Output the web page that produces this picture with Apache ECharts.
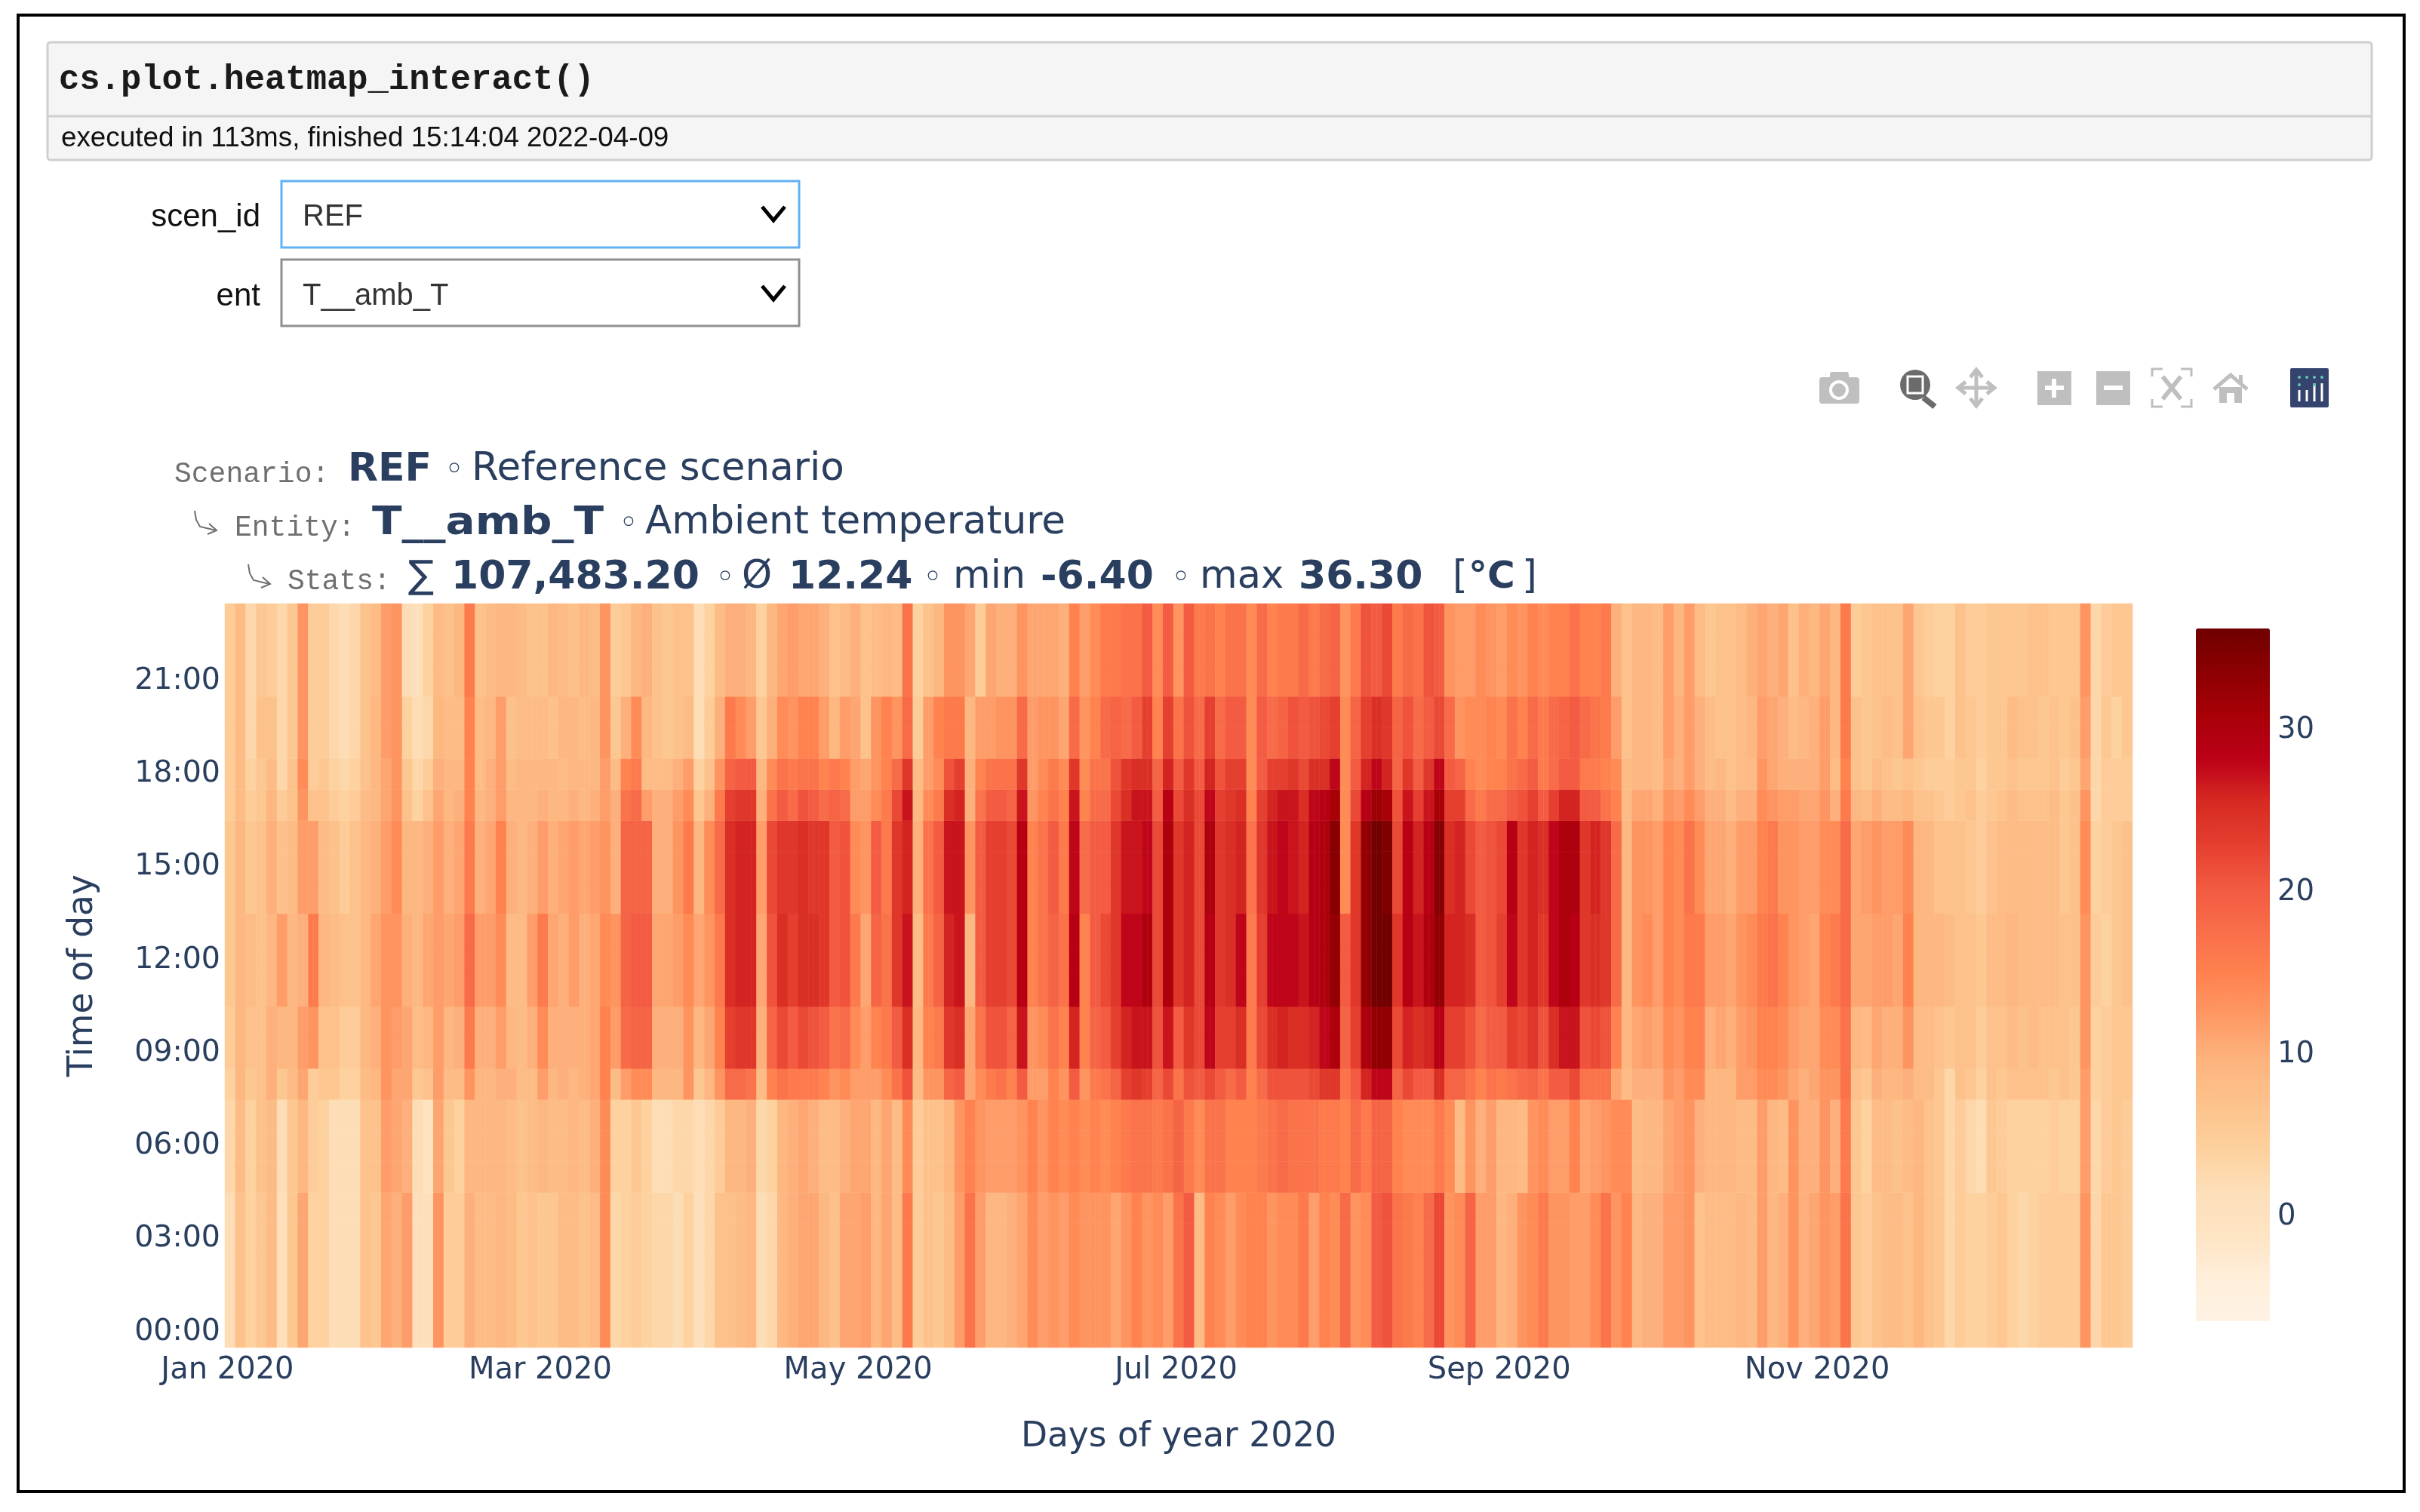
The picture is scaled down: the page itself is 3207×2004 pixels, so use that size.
<!DOCTYPE html>
<html><head><meta charset="utf-8">
<style>html,body{margin:0;padding:0;background:#fff}#c{width:3207px;height:2004px}</style>
<script src="https://cdn.jsdelivr.net/npm/echarts@6/dist/echarts.min.js"></script>
</head><body><div id="c"></div>
<script>
const hourLabels=["00:00","01:00","02:00","03:00","04:00","05:00","06:00","07:00","08:00","09:00","10:00","11:00","12:00","13:00","14:00","15:00","16:00","17:00","18:00","19:00","20:00","21:00","22:00","23:00"];
const monthTicks={0:"Jan 2020",60:"Mar 2020",121:"May 2020",182:"Jul 2020",244:"Sep 2020",305:"Nov 2020"};
const colorbarTicks=[0,10,20,30];
const colorStops=["#fff3e4","#ffeeda","#fee4c4","#fddfb9","#fdd09c","#fdc28c","#fdb47e","#fe9a66","#ff824f","#f96e4a","#f25a41","#e53f30","#d72a22","#bc0018","#a80007","#8c0002","#700000"];
const bandHours=[[0,4],[5,7],[8,8],[9,10],[11,13],[14,16],[17,17],[18,18],[19,20],[21,23]];
// Temperatures read per two-day column, one array per time-of-day band
const band0=[2,7,4,6,8,1,6,11,4,4, 2,2,2,7,6,11,10,12,1,1, 13,5,5,10,8,8,9,8,6,7, 6,6,8,8,7,8,14,3,4,5, 4,3,3,2,4,1,3,7,7,8,
9,2,3,9,10,11,11,9,7,11, 11,12,9,11,8,16,5,7,6,8, 12,17,12,9,9,10,11,14,12,13, 12,14,13,13,13,11,13,15,13,14, 12,17,20,8,15,14,12,14,15,15,
13,14,14,16,12,15,14,18,13,14, 20,21,17,16,15,18,22,13,14,19, 12,12,9,10,13,14,16,13,13,12, 12,14,17,13,15,9,10,10,12,12,
13,7,8,8,8,9,8,12,9,10, 13,10,11,13,12,17,6,5,7,8, 8,7,9,7,6,3,5,4,4,5, 6,4,3,4,5,5,5,5,13,3, 6,6,5];
const band1=[3,8,4,7,8,2,6,9,5,4, 2,2,2,7,7,12,11,10,2,0, 11,6,4,9,9,9,9,8,7,8, 9,8,8,9,8,10,14,4,4,6, 4,2,2,3,3,2,3,5,9,9,
10,3,4,9,10,11,10,8,8,10, 11,11,9,11,8,14,5,7,7,9, 13,15,13,12,12,12,13,15,13,15, 14,15,14,15,14,15,16,17,17,16, 17,19,16,14,17,17,15,15,15,16,
17,18,17,17,17,16,16,15,18,16, 19,19,15,14,14,14,16,14,8,13, 10,12,9,9,8,13,14,12,12,15, 11,12,13,14,14,8,9,9,11,12,
13,10,9,9,9,8,8,12,9,8, 13,10,10,13,10,16,6,4,8,8, 7,8,9,7,6,3,5,3,2,6, 5,4,4,4,4,5,4,4,12,3, 5,6,5];
const band2=[4,9,6,7,10,6,8,11,5,6, 6,4,4,8,9,13,11,11,6,7, 12,8,8,13,9,9,10,10,8,8, 12,9,10,9,10,11,15,8,12,14, 14,9,9,9,13,6,9,13,18,18,
17,8,15,17,16,16,16,15,13,14, 12,12,12,14,17,21,8,13,13,19, 20,11,14,16,17,15,20,12,12,15, 13,20,13,16,17,19,23,24,23,19, 22,17,21,20,22,20,18,20,15,18,
21,21,21,21,22,24,24,17,20,26, 28,28,19,22,20,20,25,19,19,17, 15,17,16,17,18,19,17,20,20,22, 17,17,17,11,8,10,10,10,13,12,
14,14,9,9,9,12,12,14,14,13, 11,10,11,13,13,17,7,6,10,9, 9,10,8,8,6,3,7,6,4,7, 6,7,7,7,7,6,7,6,12,4, 5,6,6];
const band3=[5,9,7,7,10,9,9,12,13,7, 7,5,5,9,10,13,12,11,8,9, 12,9,10,16,10,10,12,9,8,10, 14,10,10,10,10,11,15,12,18,19, 19,10,10,10,13,9,11,15,23,24,
24,10,19,22,20,22,21,20,17,18, 14,12,15,16,20,25,9,15,16,24, 25,11,17,21,21,19,27,13,14,17, 15,26,15,19,20,23,26,27,27,21, 27,20,24,22,28,23,23,25,16,22,
25,26,25,25,26,28,30,19,23,30, 33,33,22,26,25,26,29,23,23,21, 18,20,20,23,22,24,21,25,27,27, 21,22,21,15,9,11,12,11,14,13,
15,15,10,11,10,12,13,15,15,14, 12,11,11,14,14,17,9,8,11,10, 10,13,8,8,7,6,7,7,5,7, 7,8,7,8,7,7,7,6,13,4, 5,6,6];
const band4=[6,9,8,7,9,12,9,10,16,9, 8,7,7,9,11,13,13,10,9,11, 12,11,12,18,12,12,14,8,8,12, 16,11,10,12,10,11,14,13,19,20, 20,11,11,12,14,11,13,16,25,26,
26,11,21,25,23,25,25,24,20,21, 16,11,19,17,24,27,8,16,19,26, 27,9,20,23,23,22,29,15,17,19, 17,29,15,20,22,24,28,28,30,22, 30,24,26,22,29,24,25,28,16,23,
28,28,28,27,29,30,33,20,24,33, 36,36,24,29,27,30,33,26,26,25, 20,21,23,28,24,26,24,28,30,29, 24,25,24,18,9,13,14,12,15,14,
16,16,12,12,11,13,14,16,17,15, 13,12,11,15,16,18,11,11,12,12, 11,15,9,9,9,8,7,7,6,8, 8,9,8,8,8,8,7,7,13,5, 4,6,7];
const band5=[6,9,6,7,10,7,8,12,12,8, 7,5,7,9,10,12,14,9,9,10, 12,10,11,16,10,11,15,10,9,10, 12,10,11,12,11,12,13,10,19,19, 19,10,10,13,16,9,14,18,25,26,
26,12,22,24,24,25,24,24,20,21, 14,13,20,16,24,26,10,17,20,27, 27,13,20,23,23,22,29,15,17,20, 16,28,18,20,20,24,27,27,28,22, 30,24,26,22,30,24,25,26,17,24,
27,28,27,26,29,30,34,14,24,33, 36,35,22,29,26,29,34,25,26,22, 20,21,22,29,24,26,25,28,30,30, 24,26,24,18,9,13,13,12,15,14,
17,14,11,11,10,12,12,15,16,13, 13,12,12,14,14,18,11,12,13,12, 12,14,9,9,7,7,7,6,5,7, 8,8,8,8,8,8,6,7,14,4, 5,6,7];
const band6=[5,8,5,6,9,5,7,13,7,7, 5,4,5,8,9,11,13,7,4,7, 11,9,10,15,9,10,12,9,9,9, 10,9,9,10,9,10,12,10,17,18, 12,10,10,12,14,6,10,16,23,24,
24,10,17,20,18,21,20,18,19,18, 12,12,14,16,22,27,9,14,16,25, 26,10,17,20,20,19,27,13,15,17, 15,27,15,18,18,22,25,27,27,20, 29,22,25,22,28,23,24,25,15,23,
26,27,27,25,28,29,31,14,22,29, 32,31,21,27,23,27,31,23,23,18, 16,18,18,20,21,23,20,23,26,26, 20,20,17,15,8,11,11,10,13,12,
14,12,10,10,8,10,10,14,13,12, 12,11,11,13,10,16,9,8,10,8, 8,9,7,7,6,5,6,7,5,6, 7,8,7,7,7,8,6,7,13,3, 5,5,5];
const band7=[5,8,4,6,8,3,7,14,5,6, 4,3,4,7,9,11,13,6,3,5, 10,9,9,15,8,10,12,8,9,9, 9,9,8,9,9,9,12,8,15,16, 8,8,8,10,12,4,7,13,19,20,
20,9,14,17,16,17,17,15,16,15, 12,11,13,15,18,24,8,12,14,21, 23,10,15,17,17,17,24,12,14,16, 14,24,14,17,17,21,24,25,25,19, 26,20,24,20,26,21,23,23,14,20,
23,23,24,22,25,25,28,14,20,26, 28,26,19,24,20,24,28,20,19,15, 14,15,15,17,18,20,16,18,20,20, 16,16,15,14,8,9,9,8,11,10,
12,10,8,9,7,8,8,13,11,10, 10,10,10,12,8,15,7,6,8,7, 6,7,6,5,5,5,6,6,4,6, 6,7,6,6,6,7,5,6,11,3, 5,5,5];
const band8=[5,8,3,7,7,3,6,13,5,5, 3,2,3,7,9,12,13,4,2,3, 9,8,8,15,8,9,12,7,8,8, 8,7,9,9,8,9,13,6,10,14, 9,7,6,7,8,2,5,10,16,14,
12,6,10,14,13,15,15,12,9,12, 11,7,13,15,13,18,5,12,15,16, 16,9,12,12,13,13,18,12,13,13, 11,18,13,15,18,19,18,20,23,15, 23,17,21,18,23,18,20,20,14,20,
18,19,21,20,21,22,23,14,19,23, 25,24,19,21,18,20,22,18,13,14, 14,15,14,17,15,18,16,18,19,20, 18,17,16,12,7,9,9,8,12,10,
12,10,8,7,7,8,9,12,11,10, 8,9,10,12,9,16,7,6,7,8, 7,11,7,6,6,4,7,6,5,6, 6,8,7,7,6,7,6,7,12,3, 6,4,6];
const band9=[5,8,3,6,5,3,6,13,5,5, 3,2,3,7,8,12,13,2,1,4, 8,7,9,16,7,8,9,9,8,7, 7,9,8,7,9,8,13,5,6,9, 10,7,6,7,7,2,4,8,10,10,
9,4,9,11,12,11,11,10,7,8, 10,7,8,9,8,17,4,7,9,13, 13,11,5,11,10,10,13,11,11,11, 10,15,12,14,16,16,17,17,20,14, 20,13,20,16,17,15,17,17,14,18,
15,16,16,18,16,18,19,13,16,21, 20,22,16,18,17,21,20,13,12,12, 14,13,12,14,13,15,14,15,15,17, 15,15,16,10,7,9,9,8,12,9,
12,8,6,7,7,8,10,11,10,11, 7,10,9,11,9,16,5,6,7,7, 7,11,6,5,4,4,7,5,5,6, 6,6,6,7,7,6,6,6,13,3, 5,6,6];
const bands=[band0,band1,band2,band3,band4,band5,band6,band7,band8,band9];

const dayCats=[],cells=[];
for(let d=0;d<366;d++)dayCats.push(monthTicks[d]||("d"+d));
bands.forEach((b,i)=>{const [h0,h1]=bandHours[i];
  b.forEach((v,k)=>{for(let h=h0;h<=h1;h++){cells.push([2*k,h,v]);cells.push([2*k+1,h,v]);}});
});

const INK="#2a3f5f",GREY="#6f6f6f";
const SANS='"DejaVu Sans"',MONO='"Liberation Mono"',ARIAL='"Liberation Sans"';
function T(text,x,y,font,fill,align,sx){return{type:'text',x:x,y:y,scaleX:sx||1,silent:true,style:{text:text,font:font,fill:fill,align:align||'left',verticalAlign:'middle',textAlign:align||'left',textVerticalAlign:'middle'}};}
function R(x,y,w,h,fill,stroke,lw,r){return{type:'rect',silent:true,shape:{x:x,y:y,width:w,height:h,r:r||0},style:{fill:fill||'none',stroke:stroke||'none',lineWidth:lw||0}};}
function L(pts,stroke,lw){return{type:'polyline',silent:true,shape:{points:pts},style:{fill:'none',stroke:stroke,lineWidth:lw,lineJoin:'miter'}};}
function C(cx,cy,r,fill,stroke,lw){return{type:'circle',silent:true,shape:{cx:cx,cy:cy,r:r},style:{fill:fill||'none',stroke:stroke||'none',lineWidth:lw||0}};}
function arrow(x,y){return{type:'polyline',silent:true,shape:{points:[[x,y],[x+2,y+12],[x+7,y+21],[x+28,y+26]]},style:{fill:'none',stroke:GREY,lineWidth:2}};}
function arrowHead(x,y){return L([[x+19,y+17],[x+29,y+26],[x+17,y+31]],GREY,2);}
const ICON="#bfbfbf";
const gfx=[
 R(24,20,3162,1957,'#fff','#000',4),
 R(63,56,3080,156,'#f5f5f5','#cfcfcf',3,4),
 L([[63,154],[3143,154]],'#cfcfcf',3),
 T("cs.plot.heatmap_interact()",78,107,'bold 45.5px '+MONO,'#1a1a1a'),
 T("executed in 113ms, finished 15:14:04 2022-04-09",81,184,'36.8px '+ARIAL,'#111'),
 R(373,240,686,88,'#fff','#62b1f5',3),
 R(373,344,686,88,'#fff','#909090',3),
 T("scen_id",345,288,'42px '+ARIAL,'#111','right'),
 T("ent",345,393,'42px '+ARIAL,'#111','right'),
 T("REF",401,288,'40px '+ARIAL,'#333'),
 T("T__amb_T",401,393,'40px '+ARIAL,'#333'),
 L([[1010,274],[1025,292],[1040,274]],'#000',5),
 L([[1010,379],[1025,397],[1040,379]],'#000',5),
 // plot toolbar
 R(2411,500,53,35,ICON,null,0,4),R(2425,493,25,10,ICON,null,0,3),C(2437,517,11,ICON,'#fff',4),
 C(2538,510,20,'#6b6b6b'),R(2528,499,20,22,'#6b6b6b','#fff',3),L([[2549,527],[2564,539]],'#6b6b6b',8),
 L([[2619,492],[2619,536]],ICON,5),L([[2597,514],[2641,514]],ICON,5),
 L([[2611,500],[2619,490],[2627,500]],ICON,5),L([[2611,528],[2619,538],[2627,528]],ICON,5),
 L([[2605,506],[2595,514],[2605,522]],ICON,5),L([[2633,506],[2643,514],[2633,522]],ICON,5),
 R(2700,492,45,45,ICON),L([[2722,502],[2722,527]],'#fff',6),L([[2710,514],[2735,514]],'#fff',6),
 R(2778,492,45,45,ICON),L([[2788,514],[2813,514]],'#fff',6),
 L([[2852,499],[2852,489],[2866,489]],ICON,3),L([[2890,489],[2904,489],[2904,499]],ICON,3),L([[2852,529],[2852,539],[2866,539]],ICON,3),L([[2890,539],[2904,539],[2904,529]],ICON,3),
 L([[2866,499],[2890,529]],ICON,6),L([[2890,499],[2866,529]],ICON,6),
 L([[2934,516],[2956,497],[2978,516]],ICON,5),R(2941,513,30,21,ICON),R(2951,521,10,13,'#fff'),R(2967,497,5,12,ICON),
 R(3035,488,51,52,'#34446e',null,0,2),
 L([[3047,517],[3047,532]],'#fff',3),L([[3057,517],[3057,532]],'#fff',3),L([[3067,508],[3067,532]],'#fff',3),L([[3077,508],[3077,532]],'#fff',3),
 C(3047,500,2,'#5fc8b0'),C(3057,500,2,'#5fc8b0'),C(3067,500,2,'#5fc8b0'),C(3077,500,2,'#5fc8b0'),C(3047,510,2,'#5fc8b0'),C(3067,510,2,'#5fc8b0'),
 // title lines
 T("Scenario:",231,629,'38px '+MONO,GREY),
 T("REF",461,623,'bold 52px '+SANS,INK),
 T("◦",589,625,'44px '+SANS,INK),
 T("Reference scenario",625,623,'51.5px '+SANS,INK),
 arrow(258,677),arrowHead(258,677),
 T("Entity:",311,700,'38px '+MONO,GREY),
 T("T__amb_T",493,694,'bold 52px '+SANS,INK,'left',1.115),
 T("◦",820,696,'44px '+SANS,INK),
 T("Ambient temperature",855,694,'51.5px '+SANS,INK),
 arrow(329,748),arrowHead(329,748),
 T("Stats:",381,771,'38px '+MONO,GREY),
 T("∑",541,766,'51px '+SANS,INK),
 T("107,483.20",598,766,'bold 52px '+SANS,INK),
 T("◦",948,768,'44px '+SANS,INK),
 T("Ø",983,766,'51px '+SANS,INK),
 T("12.24",1045,766,'bold 52px '+SANS,INK),
 T("◦",1223,768,'44px '+SANS,INK),
 T("min",1263,766,'51px '+SANS,INK),
 T("-6.40",1379,766,'bold 52px '+SANS,INK),
 T("◦",1552,768,'44px '+SANS,INK),
 T("max",1590,766,'51px '+SANS,INK),
 T("36.30",1721,766,'bold 52px '+SANS,INK),
 T("[",1925,766,'51px '+SANS,INK),
 T("°C",1946,766,'bold 50px '+SANS,INK),
 T("]",2017,766,'51px '+SANS,INK)
];

const chart=echarts.init(document.getElementById('c'),null,{width:3207,height:2004,devicePixelRatio:1});
chart.setOption({
 animation:false,backgroundColor:'#fff',
 grid:[{left:298,top:800,width:2528,height:986},{left:2910,top:833,width:98,height:918,show:false}],
 xAxis:[
  {type:'category',data:dayCats,gridIndex:0,axisLine:{show:false},axisTick:{show:false},splitLine:{show:false},
   axisLabel:{interval:(i)=>monthTicks[i]!==undefined,formatter:(v)=>v,color:INK,fontFamily:'DejaVu Sans',fontSize:40,margin:11,hideOverlap:false,showMinLabel:true},
   name:"Days of year 2020",nameLocation:'middle',nameGap:96,nameTextStyle:{color:INK,fontFamily:'DejaVu Sans',fontSize:45.5}},
  {type:'value',gridIndex:1,show:false,min:0,max:1}
 ],
 yAxis:[
  {type:'category',data:hourLabels,gridIndex:0,axisLine:{show:false},axisTick:{show:false},splitLine:{show:false},
   axisLabel:{interval:2,color:INK,fontFamily:'DejaVu Sans',fontSize:39.5,margin:6,padding:[4,0,0,0]},
   name:"Time of day",nameLocation:'middle',nameGap:165,nameRotate:90,nameTextStyle:{color:INK,fontFamily:'DejaVu Sans',fontSize:45.5}},
  {type:'value',gridIndex:1,position:'right',min:-6.4,max:36.3,axisLine:{show:false},axisTick:{show:false},splitLine:{show:false},
   axisLabel:{customValues:colorbarTicks,color:INK,fontFamily:'DejaVu Sans',fontSize:38.5,margin:10,padding:[3,0,0,0]}}
 ],
 visualMap:{type:'continuous',seriesIndex:0,min:-6.4,max:36.3,left:2910,top:833,itemWidth:98,itemHeight:918,padding:0,text:null,calculable:false,realtime:false,hoverLink:false,inRange:{color:colorStops}},
 series:[{type:'heatmap',xAxisIndex:0,yAxisIndex:0,data:cells,silent:true,progressive:0,itemStyle:{borderWidth:0}}],
 graphic:{elements:gfx}
});
</script></body></html>
